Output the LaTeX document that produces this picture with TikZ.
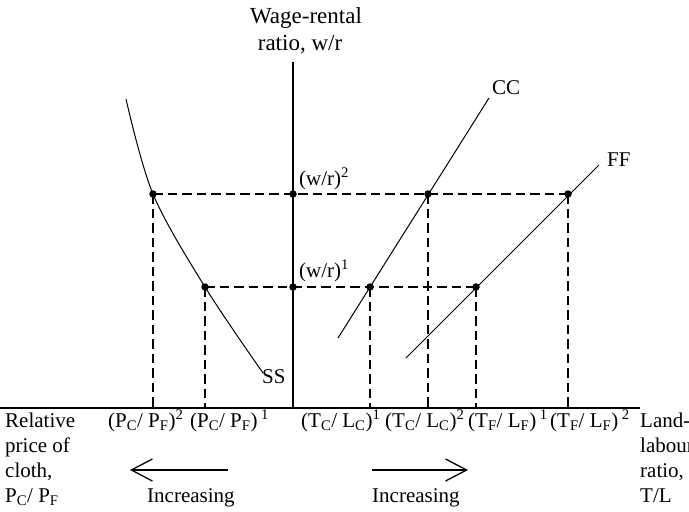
\documentclass[tikz,border=0pt]{standalone}
\usepackage{fontspec}
\setmainfont{Liberation Serif}
\usetikzlibrary{arrows.meta}
\begin{document}
\begin{tikzpicture}[x=1pt,y=-1pt,
  axisline/.style={line width=1.6pt},
  guide/.style={line width=1.4pt, dash pattern=on 9.5pt off 5pt},
  curveline/.style={line width=1pt},
  dot/.style={circle, fill, inner sep=0pt, minimum size=7.5pt},
  lbl/.style={font=\fontsize{21}{25}\selectfont, inner sep=0pt, anchor=base west},
  ttl/.style={font=\fontsize{23}{27}\selectfont, inner sep=0pt, anchor=base},
  arr/.style={line width=1.3pt, -{Straight Barb[length=21pt,width=22pt]}}]
\useasboundingbox (0,0) rectangle (689,512);

% axes
\coordinate (ytop) at (293,62);
\coordinate (orig) at (293,408);
\coordinate (xleft) at (0,408);
\coordinate (xright) at (640,408);
\draw[axisline] (ytop) -- (orig);
\draw[axisline] (xleft) -- (xright);

% curve end points
\coordinate (ssA) at (126,99);
\coordinate (ssB) at (263,373);
\coordinate (ccA) at (338,338);
\coordinate (ccB) at (489,98);
\coordinate (ffA) at (406,358);
\coordinate (ffB) at (599,165);

% intersection dots
\node[dot] (s2) at (153,194) {};
\node[dot] (s1) at (205,287) {};
\node[dot] (w2) at (293,194) {};
\node[dot] (w1) at (293,287) {};
\node[dot] (c2) at (428,194) {};
\node[dot] (c1) at (370,287) {};
\node[dot] (f2) at (568,194) {};
\node[dot] (f1) at (476,287) {};

% feet on horizontal axis
\coordinate (s2x) at (153,408);
\coordinate (s1x) at (205,408);
\coordinate (c1x) at (370,408);
\coordinate (c2x) at (428,408);
\coordinate (f1x) at (476,408);
\coordinate (f2x) at (568,408);

% curves
\draw[curveline] plot[smooth, tension=0.55] coordinates {(ssA) (s2.center) (s1.center) (ssB)};
\draw[curveline] (ccA) -- (ccB);
\draw[curveline] (ffA) -- (ffB);

% dashed guides
\draw[guide] (s2.center) -- (f2.center);
\draw[guide] (s1.center) -- (f1.center);
\draw[guide] (s2.center) -- (s2x);
\draw[guide] (s1.center) -- (s1x);
\draw[guide] (c1.center) -- (c1x);
\draw[guide] (c2.center) -- (c2x);
\draw[guide] (f1.center) -- (f1x);
\draw[guide] (f2.center) -- (f2x);

% title
\node[ttl] (t1) at (306,23) {Wage-rental};
\node[ttl] (t2) at (300,50) {ratio, w/r};

% curve labels
\node[lbl] (lcc) at (492,94) {CC};
\node[lbl] (lff) at (607,166) {FF};
\node[lbl] (lss) at (262,383) {SS};
\node[lbl] (lw2) at (299,185) {(w/r)\textsuperscript{2}};
\node[lbl] (lw1) at (299,277) {(w/r)\textsuperscript{1}};

% tick labels
\node[lbl] (x1) at (108,427) {(P\textsubscript{C}/ P\textsubscript{F})\textsuperscript{2}};
\node[lbl] (x2) at (190,427) {(P\textsubscript{C}/ P\textsubscript{F})\,\textsuperscript{1}};
\node[lbl] (x3) at (301,427) {(T\textsubscript{C}/ L\textsubscript{C})\textsuperscript{1}};
\node[lbl] (x4) at (385,427) {(T\textsubscript{C}/ L\textsubscript{C})\textsuperscript{2}};
\node[lbl] (x5) at (468,427) {(T\textsubscript{F}/ L\textsubscript{F})\,\textsuperscript{1}};
\node[lbl] (x6) at (550,427) {(T\textsubscript{F}/ L\textsubscript{F})\,\textsuperscript{2}};

% left axis label
\node[lbl] (r1) at (5,427) {Relative};
\node[lbl] (r2) at (5,452) {price of};
\node[lbl] (r3) at (5,477) {cloth,};
\node[lbl] (r4) at (5,502) {P\textsubscript{C}/ P\textsubscript{F}};

% right axis label
\node[lbl] (q1) at (640,427) {Land-};
\node[lbl] (q2) at (640,452) {labour};
\node[lbl] (q3) at (640,477) {ratio,};
\node[lbl] (q4) at (640,502) {T/L};

% increasing arrows
\coordinate (la1) at (228,470);
\coordinate (la2) at (130,470);
\coordinate (ra1) at (372,470);
\coordinate (ra2) at (468,470);
\draw[arr] (la1) -- (la2);
\draw[arr] (ra1) -- (ra2);
\node[lbl] (inc1) at (147,502) {Increasing};
\node[lbl] (inc2) at (372,502) {Increasing};
\end{tikzpicture}
\end{document}
